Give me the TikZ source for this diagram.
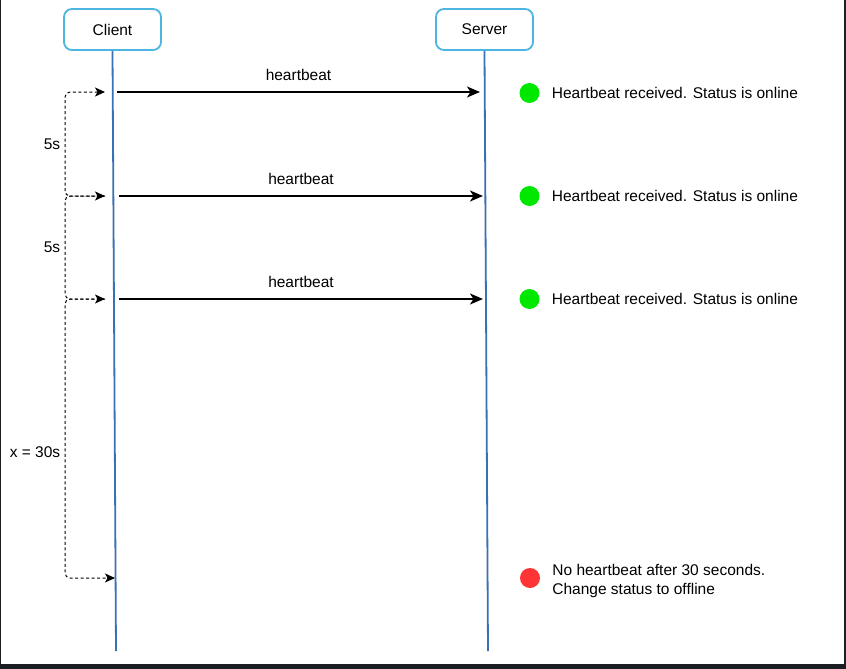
\documentclass[tikz,border=0pt]{standalone}
\usepackage{fontspec}
\setmainfont{Liberation Sans}
\usetikzlibrary{arrows.meta,positioning,calc}
\definecolor{actorblue}{HTML}{4DB5E1}
\definecolor{lifeblue}{HTML}{3A71B4}
\definecolor{okgreen}{HTML}{00E800}
\definecolor{badred}{HTML}{FF3535}
\definecolor{shotframe}{HTML}{1B1E22}
\tikzset{
  actor/.style={rectangle, rounded corners=8pt, draw=actorblue, line width=1.8pt, fill=white, minimum width=97pt, minimum height=41pt},
  life/.style={draw=lifeblue, line width=1.8pt},
  connect/.style={-{Stealth[length=13pt,width=11pt,inset=3.5pt]}, line width=1.8pt},
  wait/.style={-{Stealth[length=10pt,width=9pt,inset=2.5pt]}, dash pattern=on 3pt off 2.5pt, line width=1pt, rounded corners=5pt},
  dot/.style={circle, minimum size=20pt, inner sep=0pt},
  status/.style={anchor=west, align=left, inner sep=0pt}
}

\begin{document}
\begin{tikzpicture}[x=1pt, y=-1pt, every node/.style={font=\fontsize{15.5}{19}\selectfont}]
    % screenshot frame
    \fill[shotframe] (0,0) rectangle (846,669);
    \fill[white] (1,0) rectangle (844,664);

    \node[actor] (Client) at (112.5,29.5) {Client};
    \node[actor] (Server) at (484.5,29.5) {Server};
    \coordinate (ClientEnd) at (116,651);
    \coordinate (ServerEnd) at (488,651);
    \draw[life] (Client.south) -- (ClientEnd);
    \draw[life] (Server.south) -- (ServerEnd);

    % heartbeats
    \coordinate (Send1) at (117,92);
    \coordinate (Recv1) at (480,92);
    \coordinate (Send2) at (119,196);
    \coordinate (Recv2) at (483,196);
    \coordinate (Send3) at (119,299);
    \coordinate (Recv3) at (483,299);
    \path (Send1) edge [connect] node[above=7pt] {heartbeat} (Recv1)
          (Send2) edge [connect] node[above=7pt] {heartbeat} (Recv2)
          (Send3) edge [connect] node[above=7pt] {heartbeat} (Recv3);

    % waiting intervals
    \coordinate (Tick1) at (105,92);
    \coordinate (Tick2) at (105,196);
    \coordinate (Tick3) at (105,299);
    \coordinate (Tick4) at (115,578);
    \coordinate (Rail) at (65,0);
    \draw[wait, {Stealth[length=10pt,width=9pt,inset=2.5pt]}-{Stealth[length=10pt,width=9pt,inset=2.5pt]}]
        (Tick1) -- (Tick1 -| Rail) -- node[left=1pt] {5s} (Tick2 -| Rail) -- (Tick2);
    \draw[wait] (Tick2) -- (Tick2 -| Rail) -- node[left=1pt] {5s} (Tick3 -| Rail) -- (Tick3);
    \draw[wait] (Tick3) -- (Tick3 -| Rail) -- node[left=1pt, pos=0.55] {x = 30s} (Tick4 -| Rail) -- (Tick4);

    % server status
    \node[dot, fill=okgreen] (Dot1) at (529.5,93) {};
    \node[dot, fill=okgreen] (Dot2) at (529.5,196) {};
    \node[dot, fill=okgreen] (Dot3) at (529.5,299) {};
    \node[dot, fill=badred] (Dot4) at (530,578) {};
    \node[status, right=12pt of Dot1] (Msg1) {Heartbeat received. Status is online};
    \node[status, right=12pt of Dot2] (Msg2) {Heartbeat received. Status is online};
    \node[status, right=12pt of Dot3] (Msg3) {Heartbeat received. Status is online};
    \node[status, right=12pt of Dot4, yshift=-3pt] (Msg4) {No heartbeat after 30 seconds.\\Change status to offline};
\end{tikzpicture}
\end{document}
